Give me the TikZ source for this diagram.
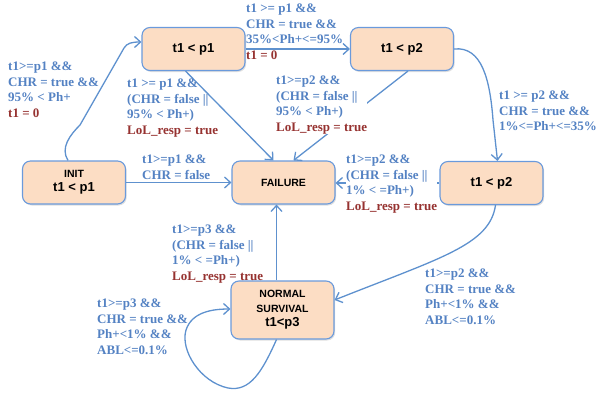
\documentclass[tikz,border=0pt]{standalone}
\usepackage{fontspec}
\setmainfont{Liberation Serif}
\newfontfamily\boxfont{Liberation Sans}
\usetikzlibrary{arrows.meta,shadows}
\definecolor{edgeblue}{RGB}{94,145,206}
\definecolor{labelblue}{RGB}{84,130,195}
\definecolor{labelred}{RGB}{150,50,48}
\definecolor{boxfill}{RGB}{252,221,196}
\definecolor{boxline}{RGB}{106,154,220}
\tikzset{
  state/.style={draw=boxline, line width=1.1pt, fill=boxfill, rounded corners=8pt,
    minimum width=103pt, minimum height=43pt, inner sep=0pt, align=center,
    font=\boxfont\bfseries\fontsize{13}{15}\selectfont,
    drop shadow={shadow xshift=1.2pt, shadow yshift=-1.5pt, opacity=0.25}},
  trans/.style={draw=edgeblue, line width=1.3pt,
    -{Straight Barb[length=6pt,width=11pt,line width=1.3pt]}},
  guard/.style={anchor=north west, inner sep=0pt, align=left, text=labelblue,
    font=\fontsize{13}{15.7}\selectfont\bfseries},
  masked/.style={fill=white}
}
\newcommand{\rd}[1]{\textcolor{labelred}{#1}}
\newcommand{\smallcap}[1]{{\fontsize{10.5}{13.5}\selectfont #1}}
\begin{document}
\begin{tikzpicture}[x=1pt,y=-1pt]
\useasboundingbox (0,0) rectangle (602,396);

% states
\node[state] (p1)   at (193.5,49)  {t1 < p1};
\node[state] (p2)   at (402,49)    {t1 < p2};
\node[state] (init) at (74,182.5)  {\smallcap{INIT}\\[-1pt] t1 < p1};
\node[state] (fail) at (283.5,182.5) {\smallcap{FAILURE}};
\node[state] (rt)   at (491.5,183) {t1 < p2};
\node[state, minimum height=58pt] (ns) at (282.5,310)
  {\smallcap{NORMAL}\\ \smallcap{SURVIVAL}\\[-1pt] t1<p3};

% transitions
\draw[trans] ([xshift=-6pt]init.north) .. controls (60,148) and (70,135) .. (80,125)
  -- (124,48) .. controls (127,43) and (132,42) .. ([yshift=7pt]p1.west);
\draw[trans] (p1.east) -- (p2.west);
\draw[trans] ([xshift=-8pt]p1.south) -- ([xshift=-10pt]fail.north);
\draw[trans] ([xshift=6pt]p2.south) -- ([xshift=10pt]fail.north);
\draw[trans] (p2.east) .. controls (482,46) and (490,80) .. (493,120)
  -- ([xshift=6pt]rt.north);
\draw[trans] (init.east) -- (fail.west);
\draw[trans] (rt.west) -- (fail.east |- rt.west);
\draw[trans] ([xshift=4pt]rt.south) .. controls (490,245) and (440,258) .. ([yshift=10pt]ns.east);
\draw[trans] ([xshift=-6pt]ns.north) -- ([xshift=-6pt]ns.north |- fail.south);
\draw[trans] ([xshift=-6pt]ns.south) .. controls (262,372) and (250,392) .. (228,388)
  .. controls (200,382) and (180,350) .. (186,330)
  .. controls (192,312) and (212,309) .. ([yshift=1pt]ns.west);

% guards
\node[guard] (gA) at (8,61.5) {t1>=p1 \&\&\\ CHR = true \&\&\\ 95\% < Ph+\\ \rd{t1 = 0}};
\node[guard] (gB) at (246,3.5) {t1 >= p1 \&\&\\ CHR = true \&\&\\ 35\%<Ph+<=95\%\\ \rd{t1 = 0}};
\node[guard] (gC) at (127,78.5) {t1 >= p1 \&\&\\ (CHR = false ||\\ 95\% < Ph+)\\ \rd{LoL\_resp = true}};
\node[guard,masked] (gD) at (276,75.5) {t1>=p2 \&\&\\ (CHR = false ||\\ 95\% < Ph+)\\ \rd{LoL\_resp = true}};
\node[guard] (gE) at (499,90.5) {t1 >= p2 \&\&\\ CHR = true \&\&\\ 1\%<=Ph+<=35\%};
\node[guard] (gF) at (142,154.5) {t1>=p1 \&\&\\ CHR = false};
\node[guard,masked] (gG) at (346,154.5) {t1>=p2 \&\&\\ (CHR = false ||\\ 1\% < =Ph+)\\ \rd{LoL\_resp = true}};
\node[guard] (gH) at (172,224.5) {t1>=p3 \&\&\\ (CHR = false ||\\ 1\% < =Ph+)\\ \rd{LoL\_resp = true}};
\node[guard] (gI) at (97,298.5) {t1>=p3 \&\&\\ CHR = true \&\&\\ Ph+<1\% \&\&\\ ABL<=0.1\%};
\node[guard] (gJ) at (425,268.5) {t1>=p2 \&\&\\ CHR = true \&\&\\ Ph+<1\% \&\&\\ ABL<=0.1\%};
\end{tikzpicture}
\end{document}
